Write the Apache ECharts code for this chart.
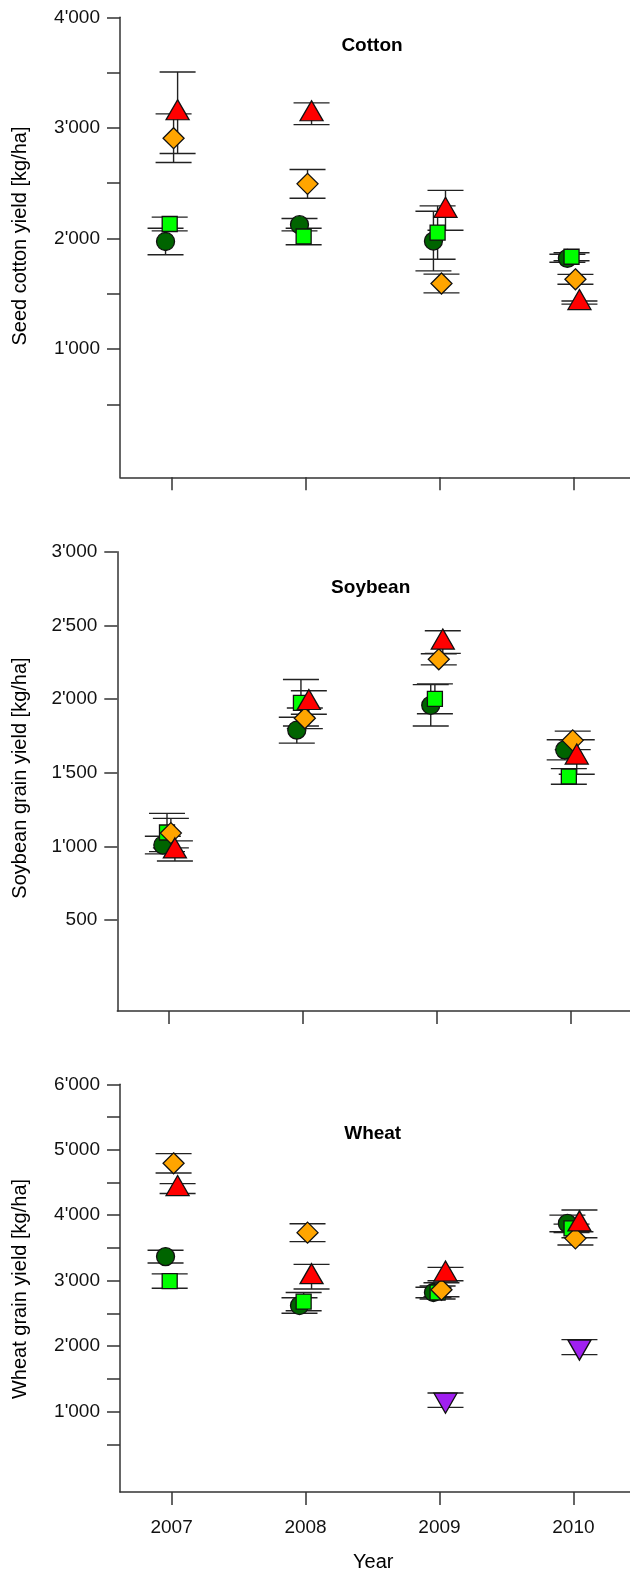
<!DOCTYPE html>
<html><head><meta charset="utf-8">
<script src="https://cdn.jsdelivr.net/npm/echarts@6/dist/echarts.min.js"></script>
<style>html,body{margin:0;padding:0;background:#fff}#c{width:630px;height:1570px}</style>
</head><body><div id="c"></div>
<script>
// ---- data ----
const years = [2007, 2008, 2009, 2010];

const cottonCircle = [1973, 2125, 1977, 1821];
const cottonCircleErr = [120, 56, 270, 36];
const cottonSquare = [2131, 2018, 2054, 1835];
const cottonSquareErr = [62, 75, 241, 36];
const cottonDiamond = [2907, 2494, 1593, 1631];
const cottonDiamondErr = [220, 130, 85, 45];
const cottonTriangle = [3137, 3128, 2255, 1421];
const cottonTriangleErr = [369, 98, 180, 14];

const soyCircle = [1010, 1789, 1958, 1656];
const soyCircleErr = [60, 88, 140, 68];
const soySquare = [1095, 1975, 2002, 1475];
const soySquareErr = [130, 158, 101, 53];
const soyDiamond = [1091, 1870, 2270, 1720];
const soyDiamondErr = [100, 70, 38, 63];
const soyTriangle = [970, 1977, 2387, 1607];
const soyTriangleErr = [68, 80, 77, 117];

const wheatCircle = [3368, 2621, 2820, 3875];
const wheatCircleErr = [97, 119, 80, 127];
const wheatSquare = [2994, 2681, 2820, 3800];
const wheatSquareErr = [110, 140, 100, 65];
const wheatDiamond = [4793, 3734, 2862, 3647];
const wheatDiamondErr = [148, 137, 107, 102];
const wheatTriangle = [4407, 3061, 3102, 3868];
const wheatTriangleErr = [76, 188, 102, 212];
const wheatInvTriangle = [null, null, 1175, 1986];
const wheatInvTriangleErr = [null, null, 110, 115];

const cottonTicks = [500, 1000, 1500, 2000, 2500, 3000, 3500, 4000];
const cottonLabels = [1000, 2000, 3000, 4000];
const soyTicks = [500, 1000, 1500, 2000, 2500, 3000];
const soyLabels = [500, 1000, 1500, 2000, 2500, 3000];
const wheatTicks = [500, 1000, 1500, 2000, 2500, 3000, 3500, 4000, 4500, 5000, 5500, 6000];
const wheatLabels = [1000, 2000, 3000, 4000, 5000, 6000];

// ---- styling ----
const FONT = "'Liberation Sans', Arial, Helvetica, sans-serif";
const AX = '#333';
const markers = {
  circle:      {symbol: 'circle',   size: 18,       color: '#006400', dx: -0.045, offset: [0, 0],  rotate: 0},
  square:      {symbol: 'rect',     size: 15,       color: '#00FF00', dx: -0.014, offset: [0, 0],  rotate: 0},
  diamond:     {symbol: 'diamond',  size: 21,       color: '#FFA500', dx: 0.015,  offset: [0, 0],  rotate: 0},
  triangle:    {symbol: 'triangle', size: [23, 20], color: '#FF0000', dx: 0.045,  offset: [0, -3], rotate: 0},
  invTriangle: {symbol: 'triangle', size: [23, 20], color: '#A020F0', dx: 0.045,  offset: [0, 3],  rotate: 180}
};

const panels = [
  {grid: {left: 120, top: 17.3, width: 510, height: 460}, min: -159, max: 4000, ticks: cottonTicks, labels: cottonLabels,
   sets: [['circle', cottonCircle, cottonCircleErr], ['square', cottonSquare, cottonSquareErr],
          ['diamond', cottonDiamond, cottonDiamondErr], ['triangle', cottonTriangle, cottonTriangleErr]]},
  {grid: {left: 117.3, top: 551.7, width: 512.7, height: 459.3}, min: -116, max: 3000, ticks: soyTicks, labels: soyLabels,
   sets: [['circle', soyCircle, soyCircleErr], ['square', soySquare, soySquareErr],
          ['diamond', soyDiamond, soyDiamondErr], ['triangle', soyTriangle, soyTriangleErr]]},
  {grid: {left: 120, top: 1084.3, width: 510, height: 407.7}, min: -227, max: 6000, ticks: wheatTicks, labels: wheatLabels,
   sets: [['circle', wheatCircle, wheatCircleErr], ['square', wheatSquare, wheatSquareErr],
          ['diamond', wheatDiamond, wheatDiamondErr], ['triangle', wheatTriangle, wheatTriangleErr],
          ['invTriangle', wheatInvTriangle, wheatInvTriangleErr]]}
];

const PX_PER_YEAR = 133.95;
const XMIN = 2006.615;

function fmt(v) { return String(v).replace(/\B(?=(\d{3})+(?!\d))/g, "'"); }

const grids = [], xAxes = [], yAxes = [], series = [];
panels.forEach((p, gi) => {
  grids.push(p.grid);
  xAxes.push({
    type: 'value', gridIndex: gi, min: XMIN, max: XMIN + p.grid.width / PX_PER_YEAR,
    axisLine: {show: true, onZero: false, lineStyle: {color: AX, width: 1.5}},
    axisTick: {show: true, length: 13, customValues: years, lineStyle: {color: AX, width: 1.5}},
    axisLabel: {show: gi === 2, customValues: years, formatter: v => String(v), fontSize: 19, color: '#111', margin: 26, fontFamily: FONT},
    splitLine: {show: false}
  });
  yAxes.push({
    type: 'value', gridIndex: gi, min: p.min, max: p.max,
    axisLine: {show: true, onZero: false, lineStyle: {color: AX, width: 1.5}},
    axisTick: {show: true, length: 13, customValues: p.ticks, lineStyle: {color: AX, width: 1.5}},
    axisLabel: {customValues: p.labels, formatter: fmt, fontSize: 19, color: '#111', margin: 20, fontFamily: FONT},
    splitLine: {show: false}
  });
  // error bars first (below markers)
  p.sets.forEach(([key, vals, errs]) => {
    const m = markers[key];
    const data = [];
    years.forEach((y, i) => { if (vals[i] != null) data.push([y + m.dx, vals[i] - errs[i], vals[i] + errs[i]]); });
    series.push({
      type: 'custom', xAxisIndex: gi, yAxisIndex: gi, z: 2, silent: true,
      encode: {x: 0, y: [1, 2]},
      data,
      renderItem: (params, api) => {
        const x = api.value(0), lo = api.value(1), hi = api.value(2);
        const a = api.coord([x, lo]), b = api.coord([x, hi]);
        const hw = 18;
        const st = {stroke: '#222', lineWidth: 1.4};
        return {type: 'group', children: [
          {type: 'line', shape: {x1: a[0], y1: a[1], x2: b[0], y2: b[1]}, style: st},
          {type: 'line', shape: {x1: a[0] - hw, y1: a[1], x2: a[0] + hw, y2: a[1]}, style: st},
          {type: 'line', shape: {x1: b[0] - hw, y1: b[1], x2: b[0] + hw, y2: b[1]}, style: st}
        ]};
      }
    });
  });
  p.sets.forEach(([key, vals], si) => {
    const m = markers[key];
    const data = [];
    years.forEach((y, i) => { if (vals[i] != null) data.push([y + m.dx, vals[i]]); });
    series.push({
      type: 'scatter', xAxisIndex: gi, yAxisIndex: gi, z: 3 + si,
      symbol: m.symbol, symbolSize: m.size, symbolOffset: m.offset, symbolRotate: m.rotate,
      itemStyle: {color: m.color, borderColor: '#111', borderWidth: 1.3, opacity: 1},
      emphasis: {disabled: true},
      data
    });
  });
});

function txt(x, y, text, opts) {
  return Object.assign({type: 'text', x, y, style: Object.assign({text, fill: '#000', font: '19px ' + FONT, textAlign: 'center', textVerticalAlign: 'middle'}, opts && opts.style || {})}, opts && opts.el || {});
}

const graphic = [
  txt(372, 45.7, 'Cotton', {style: {font: 'bold 19px ' + FONT}}),
  txt(370.7, 587.3, 'Soybean', {style: {font: 'bold 19px ' + FONT}}),
  txt(372.7, 1133.3, 'Wheat', {style: {font: 'bold 19px ' + FONT}}),
  txt(20.7, 236, 'Seed cotton yield [kg/ha]', {el: {rotation: Math.PI / 2}, style: {font: '20px ' + FONT}}),
  txt(20.7, 778, 'Soybean grain yield [kg/ha]', {el: {rotation: Math.PI / 2}, style: {font: '20px ' + FONT}}),
  txt(20.7, 1289, 'Wheat grain yield [kg/ha]', {el: {rotation: Math.PI / 2}, style: {font: '20px ' + FONT}}),
  txt(373.3, 1562, 'Year', {style: {font: '20px ' + FONT}})
];

const chart = echarts.init(document.getElementById('c'), null, {renderer: 'canvas'});
chart.setOption({
  animation: false,
  backgroundColor: '#fff',
  grid: grids, xAxis: xAxes, yAxis: yAxes, series, graphic
});
</script></body></html>
